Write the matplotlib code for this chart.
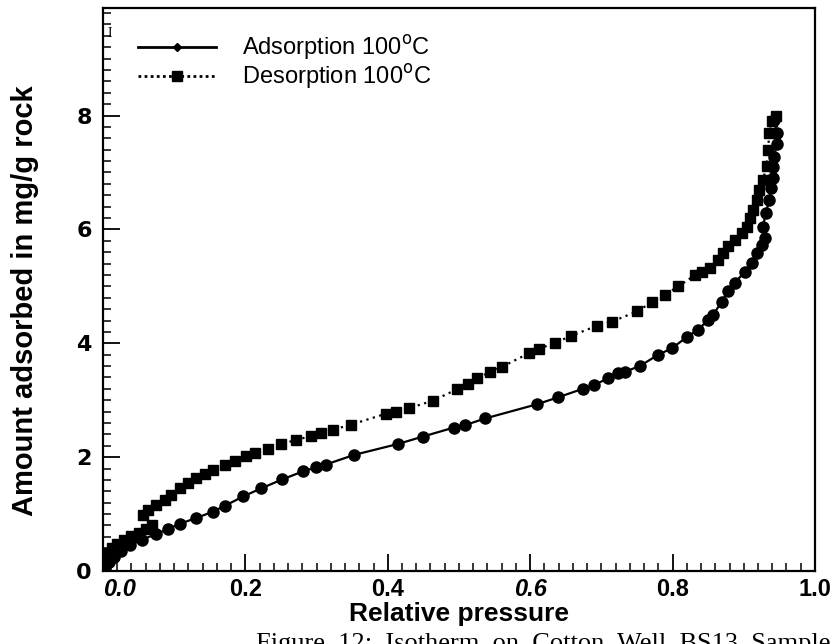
import matplotlib.pyplot as plt
from matplotlib.lines import Line2D
from matplotlib.ticker import MultipleLocator

# Adsorption branch at 100 C (relative pressure, mg/g rock)
ads_p = [0.000, 0.003, 0.008, 0.015, 0.025, 0.038, 0.055, 0.075, 0.092, 0.108,
         0.131, 0.154, 0.172, 0.197, 0.222, 0.252, 0.281, 0.299, 0.313, 0.353,
         0.414, 0.449, 0.493, 0.508, 0.537, 0.610, 0.639, 0.674, 0.689, 0.710,
         0.724, 0.733, 0.754, 0.780, 0.799, 0.820, 0.836, 0.850, 0.857, 0.869,
         0.878, 0.887, 0.902, 0.911, 0.918, 0.925, 0.930, 0.927, 0.931, 0.936,
         0.938, 0.941, 0.941, 0.943, 0.946, 0.946, 0.943]
ads_q = [0.00, 0.05, 0.15, 0.25, 0.35, 0.45, 0.55, 0.65, 0.74, 0.83,
         0.93, 1.04, 1.15, 1.31, 1.45, 1.61, 1.75, 1.82, 1.87, 2.04,
         2.23, 2.36, 2.52, 2.56, 2.68, 2.93, 3.05, 3.20, 3.26, 3.39,
         3.47, 3.50, 3.60, 3.80, 3.91, 4.11, 4.24, 4.41, 4.50, 4.73,
         4.91, 5.06, 5.26, 5.41, 5.58, 5.73, 5.85, 6.05, 6.29, 6.52,
         6.73, 6.90, 7.10, 7.28, 7.50, 7.69, 7.93]

# Desorption branch at 100 C
des_p = [0.945, 0.939, 0.936, 0.934, 0.932, 0.927, 0.922, 0.918, 0.913, 0.909,
         0.904, 0.897, 0.887, 0.878, 0.871, 0.864, 0.852, 0.841, 0.832, 0.808,
         0.789, 0.771, 0.750, 0.715, 0.694, 0.658, 0.635, 0.612, 0.599, 0.561,
         0.543, 0.526, 0.512, 0.497, 0.463, 0.430, 0.411, 0.397, 0.348, 0.323,
         0.306, 0.292, 0.271, 0.250, 0.232, 0.213, 0.201, 0.185, 0.171, 0.154,
         0.143, 0.131, 0.120, 0.108, 0.096, 0.087, 0.075, 0.063, 0.056, 0.069,
         0.060, 0.050, 0.040, 0.030, 0.020, 0.012, 0.007, 0.004, 0.003, 0.002]
des_q = [8.00, 7.90, 7.69, 7.40, 7.11, 6.87, 6.70, 6.52, 6.34, 6.20,
         6.05, 5.93, 5.82, 5.70, 5.58, 5.47, 5.32, 5.26, 5.20, 5.00,
         4.85, 4.72, 4.56, 4.38, 4.31, 4.13, 4.01, 3.90, 3.83, 3.59,
         3.49, 3.39, 3.29, 3.19, 2.99, 2.86, 2.80, 2.76, 2.57, 2.48,
         2.42, 2.37, 2.30, 2.23, 2.14, 2.07, 2.02, 1.94, 1.86, 1.78,
         1.70, 1.63, 1.54, 1.45, 1.34, 1.25, 1.16, 1.07, 0.98, 0.81,
         0.74, 0.67, 0.61, 0.55, 0.48, 0.40, 0.32, 0.22, 0.12, 0.03]

x_ticks = [0.0, 0.2, 0.4, 0.6, 0.8, 1.0]
x_labels = ['0.0', '0.2', '0.4', '0.6', '0.8', '1.0']
y_ticks = [0, 2, 4, 6, 8]

plt.rcParams['font.family'] = ['Liberation Sans', 'DejaVu Sans']

fig = plt.figure(figsize=(8.38, 6.44), dpi=100)
ax = fig.add_axes([0.1229, 0.1134, 0.8496, 0.8742])

ax.plot(ads_p, ads_q, color='black', lw=1.6, marker='o', ms=8,
        mec='black', mfc='black', zorder=3)
ax.plot(des_p, des_q, color='black', lw=1.6, ls=(0, (1, 2)), marker='s', ms=7,
        mec='black', mfc='black', zorder=3)

ax.set_xlim(0, 1.0)
ax.set_ylim(0, 9.89)

ax.set_xticks(x_ticks)
ax.set_xticklabels(x_labels, fontsize=17, fontweight='bold')
for lab in ax.get_xticklabels():
    if lab.get_text() in ('0.0', '0.6'):
        lab.set_fontstyle('italic')
    if lab.get_text() == '0.0':
        lab.set_horizontalalignment('left')
ax.set_yticks(y_ticks)
ax.set_yticklabels([str(v) for v in y_ticks], fontsize=16, fontweight='bold',
                   family='DejaVu Sans')
ax.xaxis.set_minor_locator(MultipleLocator(0.02))
ax.yaxis.set_minor_locator(MultipleLocator(0.2))
ax.tick_params(which='major', direction='in', length=12, width=1.3,
               top=False, right=False, pad=8, color='black')
ax.tick_params(axis='x', which='major', pad=5)
ax.tick_params(which='minor', direction='in', length=6, width=1.1,
               top=False, right=False)

for sp in ax.spines.values():
    sp.set_linewidth(1.6)

ax.set_xlabel('Relative pressure', fontsize=19, fontweight='bold', labelpad=1)
ax.set_ylabel('Amount adsorbed in mg/g rock', fontsize=21, fontweight='bold')
ax.yaxis.set_label_coords(-0.09, 0.48)

handles = [
    Line2D([], [], color='black', lw=2, marker='D', ms=4),
    Line2D([], [], color='black', lw=2, ls=(0, (1, 1.2)), marker='s', ms=7),
]
ax.legend(handles, ['Adsorption 100$^{\\rm o}$C', 'Desorption 100$^{\\rm o}$C'],
          loc='upper left', bbox_to_anchor=(0.049, 0.955), frameon=False,
          fontsize=17, handlelength=3.3, handletextpad=1.1, labelspacing=0.0,
          borderpad=0, borderaxespad=0)

ax.text(0.006, 0.955, 'I', transform=ax.transAxes, fontsize=10,
        family='Liberation Serif', va='center')

# caption line, partly below the lower edge of the figure
fig.text(256 / 838, 1 - 633 / 644,
         'Figure  12:  Isotherm  on  Cotton  Well  BS13  Sample',
         fontsize=19, family='Liberation Serif', va='top', ha='left')

fig.savefig('out.png', dpi=100)
